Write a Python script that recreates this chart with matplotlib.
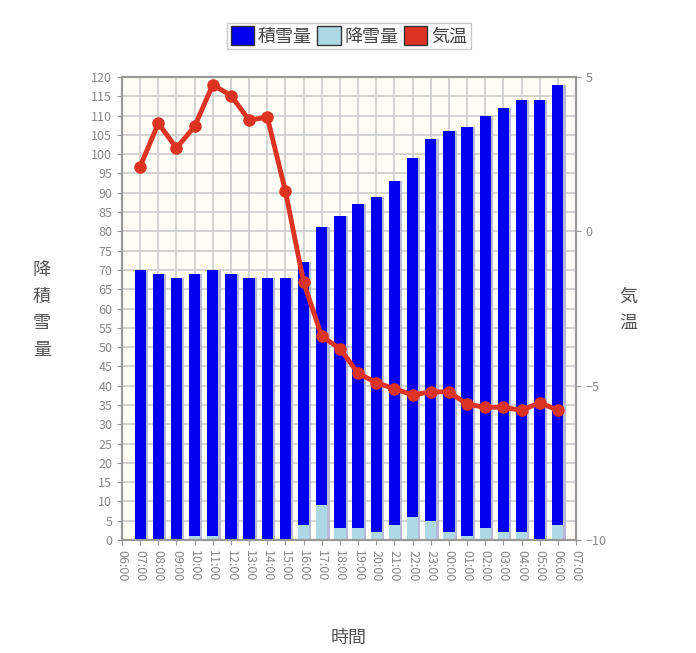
import matplotlib
matplotlib.use("Agg")
import matplotlib.pyplot as plt
from matplotlib.patches import Patch

plt.rcParams['font.family'] = ['Noto Sans CJK JP', 'DejaVu Sans']

labels = ["06:00","07:00","08:00","09:00","10:00","11:00","12:00","13:00","14:00","15:00","16:00","17:00","18:00",
          "19:00","20:00","21:00","22:00","23:00","00:00","01:00","02:00","03:00","04:00","05:00","06:00","07:00"]
depth = [70,69,68,69,70,69,68,68,68,72,81,84,87,89,93,99,104,106,107,110,112,114,114,118]
snowfall = [0,0,0,1,1,0,0,0,0,4,9,3,3,2,4,6,5,2,1,3,2,2,0,4]
temp = [2.1,3.5,2.7,3.4,4.75,4.4,3.6,3.7,1.3,-1.65,-3.4,-3.8,-4.6,-4.9,-5.1,-5.3,-5.2,-5.2,-5.6,-5.7,-5.7,-5.8,-5.55,-5.8]

fig = plt.figure(figsize=(6.96, 6.53), dpi=100)
ax = fig.add_axes([122/696, 1-540/653, 454/696, 463/653])
ax.set_facecolor('#fffdf6')
x = list(range(1, len(depth)+1))
ax.bar([v+0.12 for v in x], depth, width=0.62, color='#b8b8d8', zorder=2)
ax.bar(x, depth, width=0.62, color='#0000ee', zorder=3)
ax.bar(x, snowfall, width=0.62, color='#add8e6', zorder=4)
ax.set_xlim(0, 25)
ax.set_ylim(0, 120)
ax.set_yticks(range(0, 121, 5))
ax.set_xticks(range(26))
ax.set_xticklabels(labels, rotation=-90, fontsize=9, color='#888888')
ax.tick_params(axis='y', labelsize=9, labelcolor='#888888', color='#999999')
ax.tick_params(axis='x', color='#999999')
ax.grid(True, color='#cccccc', lw=1.2, zorder=0)
ax.set_axisbelow(True)
for s in ax.spines.values():
    s.set_color('#999999'); s.set_linewidth(1.5)

ax2 = ax.twinx()
ax2.plot(x, temp, color='#dd3322', lw=3.5, marker='o', ms=8, zorder=5)
ax2.set_ylim(-10, 5)
ax2.set_yticks([-10, -5, 0, 5])
ax2.tick_params(axis='y', labelsize=9, labelcolor='#888888', color='#999999')
for s in ax2.spines.values():
    s.set_color('#999999'); s.set_linewidth(1.5)

fig.text(42/696, 1-310/653, "降\n積\n雪\n量", ha='center', va='center', fontsize=13, color='#555555', linespacing=1.6)
fig.text(628/696, 1-310/653, "気\n温", ha='center', va='center', fontsize=13, color='#555555', linespacing=1.6)
fig.text(349/696, 1-638/653, "時間", ha='center', va='center', fontsize=13, color='#555555')

handles = [Patch(facecolor='#0000ee', edgecolor='#333333'), Patch(facecolor='#add8e6', edgecolor='#333333'),
           Patch(facecolor='#dd3322', edgecolor='#333333')]
fig.legend(handles, ["積雪量", "降雪量", "気温"], loc='center', bbox_to_anchor=(349/696, 1-36/653), ncol=3,
           fontsize=13, frameon=True, edgecolor='#bbbbbb', fancybox=False, handlelength=1.3, handleheight=1.2,
           handletextpad=0.2, columnspacing=0.3, borderpad=0.2, labelcolor='#444444')
fig.savefig("out.png", dpi=100)
